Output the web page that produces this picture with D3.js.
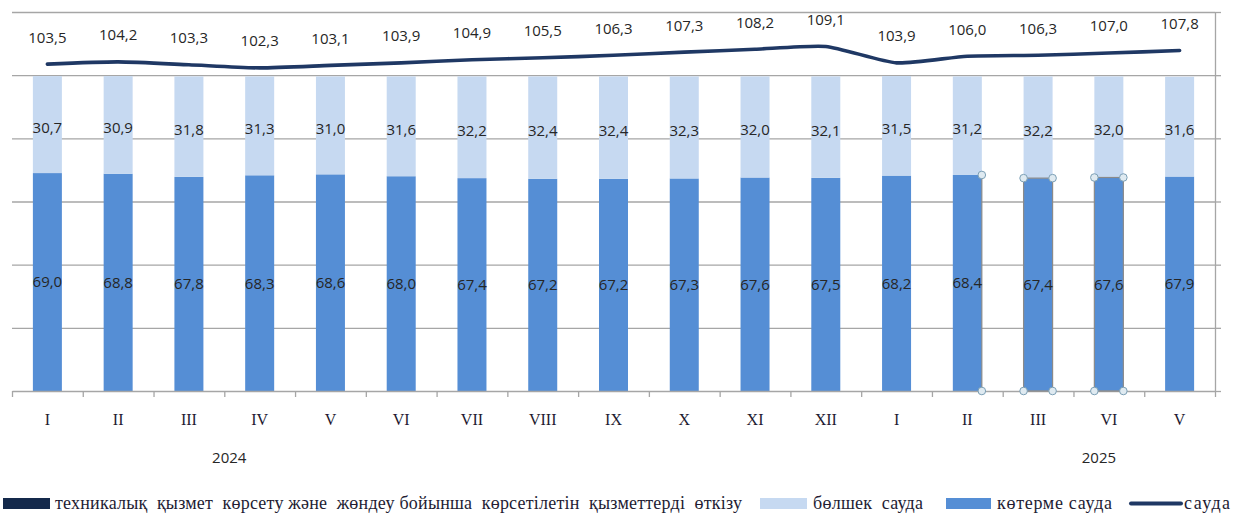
<!DOCTYPE html>
<html><head><meta charset="utf-8">
<script src="https://cdn.jsdelivr.net/npm/d3@7"></script>
<style>body{margin:0;background:#fff;} svg{display:block;}</style>
</head><body>
<svg id="c" width="1243" height="515"></svg>
<script>
const categories = ["I","II","III","IV","V","VI","VII","VIII","IX","X","XI","XII","I","II","III","VI","V"];
const wholesale = [69.0,68.8,67.8,68.3,68.6,68.0,67.4,67.2,67.2,67.3,67.6,67.5,68.2,68.4,67.4,67.6,67.9];
const retail = [30.7,30.9,31.8,31.3,31.0,31.6,32.2,32.4,32.4,32.3,32.0,32.1,31.5,31.2,32.2,32.0,31.6];
const trade = [103.5,104.2,103.3,102.3,103.1,103.9,104.9,105.5,106.3,107.3,108.2,109.1,103.9,106.0,106.3,107.0,107.8];
const yearLabels = ["2024","2025"];
const yearAnchors = [3.07,15.36];
const yTicks = [0,20,40,60,80,100,120];
const legendLabels = ["техникалық  қызмет  көрсету және  жөндеу бойынша  көрсетілетін  қызметтерді  өткізу","бөлшек  сауда","көтерме сауда","сауда"];
const selectedBars = [13,14,15];

const C = {service:"#14294b", retail:"#c6d9f1", wholesale:"#558ed5", trade:"#1f3864", grid:"#a6a6a6", text:"#262626"};
const svg = d3.select("#c");
const L = 12, R = 1215, T = 12, B = 391;
const n = categories.length;
const xi = d3.scaleLinear().domain([0, n]).range([L, R]);
const barW = 29;
const cx = i => xi(i + 0.5);
const y = d3.scaleLinear().domain([0, 120]).range([B, T]);
const fmt = v => v.toFixed(1).replace(".", ",");

// gridlines
const grid = svg.append("g").attr("transform", `translate(${R},0)`)
  .call(d3.axisRight(y).tickValues(yTicks.slice(1)).tickSize(-(R - L)).tickFormat(""));
grid.select(".domain").remove();
grid.selectAll("line").attr("stroke", C.grid).attr("stroke-width", 1.3);

// right axis with outer ticks
const ra = svg.append("g").attr("transform", `translate(${R},0)`)
  .call(d3.axisRight(y).tickValues(yTicks).tickSize(6).tickSizeOuter(0).tickFormat(""));
ra.selectAll("line,path").attr("stroke", C.grid).attr("stroke-width", 1.3);

// bars
const bars = svg.append("g");
bars.selectAll(".w").data(wholesale).join("rect")
  .attr("x", (d, i) => cx(i) - barW / 2).attr("width", barW)
  .attr("y", d => y(d)).attr("height", d => y(0) - y(d)).attr("fill", C.wholesale);
bars.selectAll(".r").data(retail).join("rect")
  .attr("x", (d, i) => cx(i) - barW / 2).attr("width", barW)
  .attr("y", (d, i) => y(wholesale[i] + d)).attr("height", d => y(0) - y(d)).attr("fill", C.retail);

// bottom axis
const ba = svg.append("g").attr("transform", `translate(0,${B})`)
  .call(d3.axisBottom(xi).tickValues(d3.range(0, n + 1)).tickSize(6).tickSizeOuter(0).tickFormat(""));
ba.selectAll("line,path").attr("stroke", C.grid).attr("stroke-width", 1.3);

// selection handles (as in the reference)
const sel = svg.append("g");
selectedBars.forEach(i => {
  const x0 = cx(i) - barW / 2, x1 = cx(i) + barW / 2, yt = y(wholesale[i]), yb = y(0);
  if (i === selectedBars[0]) {
    sel.append("line").attr("x1", x1).attr("x2", x1).attr("y1", yt).attr("y2", yb).attr("stroke", "#8a8a8a").attr("stroke-width", 1.2);
    [[x1, yt], [x1, yb]].forEach(p => sel.append("circle").attr("cx", p[0]).attr("cy", p[1]).attr("r", 3.8).attr("fill", "#dfeaf1").attr("stroke", "#7b9fb5").attr("stroke-width", 1));
  } else {
    sel.append("rect").attr("x", x0).attr("y", yt).attr("width", barW).attr("height", yb - yt).attr("fill", "none").attr("stroke", "#8a8a8a").attr("stroke-width", 1.2);
    [[x0, yt], [x1, yt], [x0, yb], [x1, yb]].forEach(p => sel.append("circle").attr("cx", p[0]).attr("cy", p[1]).attr("r", 3.8).attr("fill", "#dfeaf1").attr("stroke", "#7b9fb5").attr("stroke-width", 1));
  }
});

// line
const line = d3.line().x((d, i) => cx(i)).y(d => y(d)).curve(d3.curveCardinal.tension(0.4));
svg.append("path").datum(trade).attr("d", line).attr("fill", "none")
  .attr("stroke", C.trade).attr("stroke-width", 3.6).attr("stroke-linecap", "round");

// labels
const lf = "'Open Sans', sans-serif";
svg.append("g").selectAll("text").data(wholesale).join("text")
  .attr("x", (d, i) => cx(i)).attr("y", d => (y(d) + y(0)) / 2).attr("dy", "0.36em")
  .attr("text-anchor", "middle").attr("font-family", lf).attr("font-size", 15).attr("fill", C.text)
  .text(fmt);
svg.append("g").selectAll("text").data(retail).join("text")
  .attr("x", (d, i) => cx(i)).attr("y", (d, i) => (y(wholesale[i]) + y(wholesale[i] + d)) / 2 + 3).attr("dy", "0.36em")
  .attr("text-anchor", "middle").attr("font-family", lf).attr("font-size", 15).attr("fill", C.text)
  .text(fmt);
svg.append("g").selectAll("text").data(trade).join("text")
  .attr("x", (d, i) => cx(i)).attr("y", d => y(d) - 27).attr("dy", "0.36em")
  .attr("text-anchor", "middle").attr("font-family", lf).attr("font-size", 15).attr("fill", C.text)
  .text(fmt);

// category labels
svg.append("g").selectAll("text").data(categories).join("text")
  .attr("x", (d, i) => cx(i)).attr("y", 419).attr("dy", "0.36em")
  .attr("text-anchor", "middle").attr("font-family", "'Liberation Serif', serif").attr("font-size", 16).attr("fill", "#1e1a30")
  .text(d => d);
svg.append("g").selectAll("text").data(yearLabels).join("text")
  .attr("x", (d, i) => xi(yearAnchors[i])).attr("y", 458).attr("dy", "0.36em")
  .attr("text-anchor", "middle").attr("font-family", lf).attr("font-size", 15).attr("fill", C.text)
  .text(d => d);

// legend
const lg = svg.append("g");
const ly = 503.5;
const items = [
  {sym: "rect", col: C.service, sx: 3, sw: 47, tx: 55, tw: 687},
  {sym: "rect", col: C.retail, sx: 760, sw: 47, tx: 813, tw: 110},
  {sym: "rect", col: C.wholesale, sx: 946, sw: 45, tx: 997, tw: 115},
  {sym: "line", col: C.trade, sx: 1131, sw: 50, tx: 1184, tw: 46}
];
items.forEach((it, k) => {
  if (it.sym === "rect") lg.append("rect").attr("x", it.sx).attr("y", ly - 5.5).attr("width", it.sw).attr("height", 11).attr("fill", it.col);
  else lg.append("line").attr("x1", it.sx).attr("x2", it.sx + it.sw).attr("y1", ly).attr("y2", ly).attr("stroke", it.col).attr("stroke-width", 4).attr("stroke-linecap", "round");
  lg.append("text").attr("x", it.tx).attr("y", ly).attr("dy", "0.32em")
    .attr("font-family", "'Liberation Serif', serif").attr("font-size", 18).attr("fill", "#231c33")
    .style("white-space", "pre").attr("textLength", it.tw).attr("lengthAdjust", "spacing")
    .text(legendLabels[k]);
});
</script>
</body></html>
